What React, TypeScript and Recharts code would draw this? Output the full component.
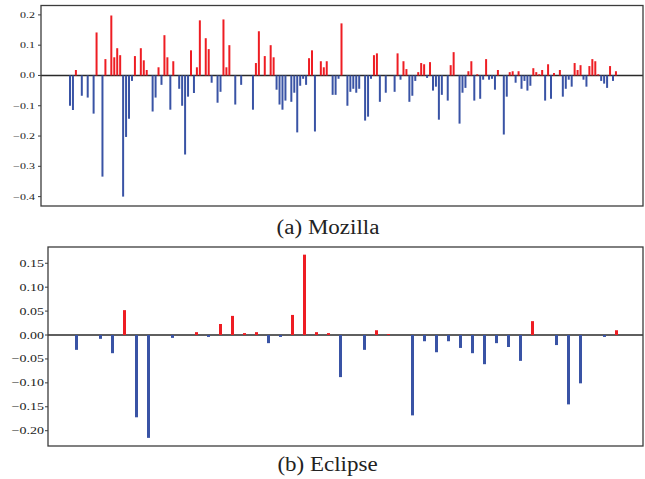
import { BarChart, Bar, Cell, XAxis, YAxis, CartesianGrid } from 'recharts';

// per-release deltas, one slot per bar position (0 = no bar)
const mozillaValues = [
  -0.1, -0.114, 0.018, 0, -0.067, 0, -0.073, 0, -0.126, 0.142,
  0, -0.334, 0.054, 0, 0.198, 0.06, 0.09, 0.067, -0.4, -0.203,
  -0.143, -0.018, 0.064, 0, 0.09, 0.05, 0.018, 0, -0.119, -0.073,
  0.027, -0.031, 0.133, 0.06, -0.113, 0.047, 0, -0.044, -0.1, -0.261,
  -0.07, 0.083, -0.058, 0.027, 0.182, 0, 0.123, 0.087, -0.024, 0,
  -0.09, -0.054, 0.185, 0.027, 0.1, 0, -0.096, 0, -0.031, 0,
  0, 0, -0.113, 0.041, 0.146, 0, 0.064, 0, 0.1, 0.06,
  -0.047, -0.096, -0.113, -0.083, 0, -0.087, -0.057, -0.188, -0.034, -0.011,
  -0.031, 0.057, 0.083, -0.185, 0, 0.047, 0.027, 0.047, 0, -0.064,
  -0.064, -0.011, 0.172, 0, -0.1, -0.054, -0.044, -0.057, -0.044, 0,
  -0.149, -0.136, -0.011, 0.067, 0.073, -0.087, 0, -0.057, 0, 0,
  -0.054, 0.073, -0.014, 0.047, 0.021, -0.087, -0.067, -0.018, 0.011, 0.041,
  0.037, -0.008, 0.044, -0.05, -0.037, -0.146, -0.064, 0, -0.083, 0.034,
  0.077, 0, -0.159, -0.057, -0.041, 0.014, 0.047, -0.083, 0.004, -0.077,
  -0.014, 0.054, -0.014, -0.011, -0.047, 0.018, 0, -0.195, -0.07, 0.011,
  0.014, -0.024, 0.014, -0.044, -0.018, -0.05, -0.034, 0.024, 0.011, 0.004,
  0.018, -0.083, 0.037, -0.077, 0.008, 0, 0.018, -0.07, -0.044, -0.014,
  -0.037, 0.041, 0.018, 0.034, -0.014, -0.037, 0.031, 0.054, 0.047, 0.004,
  -0.018, -0.027, -0.041, 0.031, -0.018, 0.014,
];

const eclipseValues = [
  -0.031, 0, -0.008, -0.038, 0.052, -0.172, -0.215, 0, -0.006, 0,
  0.006, -0.004, 0.023, 0.04, 0.004, 0.006, -0.017, -0.004, 0.042, 0.168,
  0.006, 0.004, -0.088, 0, -0.031, 0.01, 0.002, 0, -0.168, -0.013,
  -0.036, -0.013, -0.027, -0.038, -0.061, -0.017, -0.025, -0.054, 0.029, 0,
  -0.021, -0.145, -0.101, 0, -0.004, 0.01,
];

const mozillaTicks = [-0.4, -0.3, -0.2, -0.1, 0, 0.1, 0.2];
const eclipseTicks = [-0.2, -0.15, -0.1, -0.05, 0, 0.05, 0.1, 0.15];

const captions = ['(a) Mozilla', '(b) Eclipse'];

const RED = '#ee1d23';
const BLUE = '#3953a5';
const FRAME = '#3c3c3c';
const FONT = '"Liberation Serif", "Times New Roman", serif';

const fmt = (v: number, digits: number) => {
  const s = Math.abs(v).toFixed(digits);
  return v < -1e-9 ? '\u2212' + s : s;
};

function Tick(props: any) {
  const { x, y, payload, digits, size } = props;
  return (
    <g transform={`translate(${x},${y}) scale(1,0.74)`}>
      <text x={0} y={0} dy="0.34em" textAnchor="end" fontSize={size} fontFamily={FONT} fill="#222">
        {fmt(payload.value, digits)}
      </text>
    </g>
  );
}

const toRows = (vals: number[]) => vals.map((v, i) => ({ idx: i, v }));

function Panel({ values, ticks, domain, digits, size, yWidth, margin, padding, barSize, height }: any) {
  const rows = toRows(values);
  return (
    <BarChart width={645} height={height} data={rows} margin={margin}>
      <CartesianGrid vertical={false} horizontalValues={[0]} stroke="#2a2a2a" strokeWidth={1.5} />
      <XAxis dataKey="idx" type="category" hide padding={padding} />
      <YAxis
        type="number"
        domain={domain}
        ticks={ticks}
        width={yWidth}
        axisLine={false}
        tickLine={{ stroke: FRAME }}
        tickSize={3}
        tickMargin={digits === 1 ? 3 : 1}
        interval={0}
        tick={(p: any) => <Tick {...p} digits={digits} size={size} />}
      />
      <Bar dataKey="v" barSize={barSize} isAnimationActive={false}>
        {rows.map((r, i) => (
          <Cell key={`c-${i}`} fill={r.v >= 0 ? RED : BLUE} />
        ))}
      </Bar>
    </BarChart>
  );
}

export default function App() {
  return (
    <div style={{ position: 'absolute', left: 0, top: 0, width: 645, height: 479, background: '#fff' }}>
      <div style={{ position: 'absolute', left: 0, top: 0 }}>
        <Panel
          values={mozillaValues}
          ticks={mozillaTicks}
          domain={[-0.431, 0.231]}
          digits={1}
          size={12}
          yWidth={41}
          margin={{ top: 5.5, right: 2, bottom: 8, left: 0 }}
          padding={{ left: 28, right: 25.1 }}
          barSize={2}
          height={214}
        />
      </div>
      <div style={{ position: 'absolute', left: 0, top: 240 }}>
        <Panel
          values={eclipseValues}
          ticks={eclipseTicks}
          domain={[-0.232, 0.184]}
          digits={2}
          size={14}
          yWidth={48}
          margin={{ top: 7, right: 2, bottom: 9, left: 0 }}
          padding={{ left: 22, right: 21 }}
          barSize={3}
          height={215}
        />
      </div>
      <svg width={645} height={479} style={{ position: 'absolute', left: 0, top: 0, pointerEvents: 'none' }}>
        <rect x={41} y={5.5} width={602} height={200.5} fill="none" stroke={FRAME} strokeWidth={1.3} />
        <rect x={48} y={247} width={595} height={199} fill="none" stroke={FRAME} strokeWidth={1.3} />
        <g transform="translate(328,234.3) scale(1,0.87)">
          <text x={0} y={0} textAnchor="middle" fontSize={23} fontFamily={FONT} fill="#222">{captions[0]}</text>
        </g>
        <g transform="translate(327.5,470.7) scale(1,0.87)">
          <text x={0} y={0} textAnchor="middle" fontSize={23} fontFamily={FONT} fill="#222">{captions[1]}</text>
        </g>
      </svg>
    </div>
  );
}
